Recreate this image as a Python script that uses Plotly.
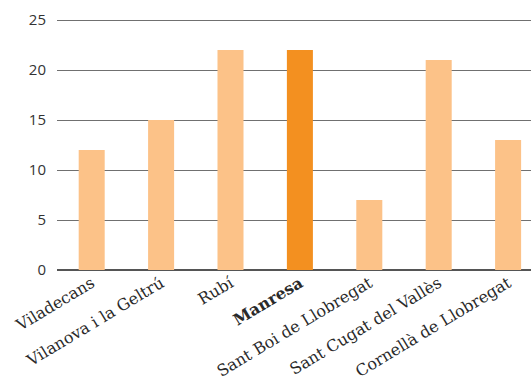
import plotly.graph_objects as go

municipis = ["Viladecans", "Vilanova i la Geltrú", "Rubí", "Manresa",
             "Sant Boi de Llobregat", "Sant Cugat del Vallès", "Cornellà de Llobregat"]
valors = [12, 15, 22, 22, 7, 21, 13]
destacat = "Manresa"

color_base = "#FCC288"
color_destacat = "#F39020"

colors = [color_destacat if m == destacat else color_base for m in municipis]
ticktext = [f"<b>{m}</b>" if m == destacat else m for m in municipis]

fig = go.Figure(go.Bar(
    x=list(range(len(municipis))),
    y=valors,
    marker=dict(color=colors, line=dict(width=0)),
    hoverinfo="skip",
))

fig.update_layout(
    width=531, height=383,
    margin=dict(l=57, r=0, t=10, b=113),
    paper_bgcolor="white", plot_bgcolor="white",
    bargap=0.625,
    showlegend=False,
    xaxis=dict(
        tickmode="array",
        tickvals=list(range(len(municipis))),
        ticktext=ticktext,
        range=[-0.5, 6.33],
        tickangle=-31,
        tickfont=dict(family="DejaVu Serif", size=16, color="#2a2a2a"),
        showgrid=False, showline=False, zeroline=False,
        ticks="",
    ),
    yaxis=dict(
        range=[0, 26],
        tickvals=[0, 5, 10, 15, 20, 25],
        tickfont=dict(family="Open Sans", size=15, color="#333333"),
        showgrid=True, gridcolor="#707070", gridwidth=1,
        zeroline=True, zerolinecolor="#555555", zerolinewidth=2,
        showline=False, ticks="", ticklabelstandoff=10,
    ),
)

fig.write_html("out.html")
